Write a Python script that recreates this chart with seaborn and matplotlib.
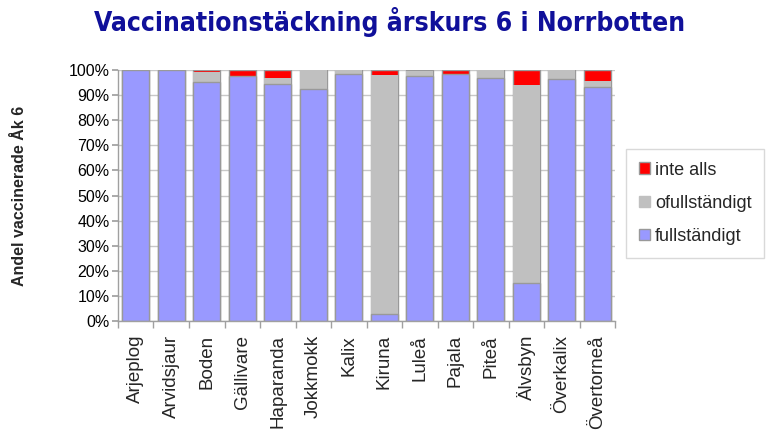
import numpy as np
import pandas as pd
import seaborn as sns
import matplotlib.pyplot as plt
from matplotlib.patches import Patch
from matplotlib.ticker import PercentFormatter, FixedLocator

kommuner = ['Arjeplog', 'Arvidsjaur', 'Boden', 'Gällivare', 'Haparanda', 'Jokkmokk',
            'Kalix', 'Kiruna', 'Luleå', 'Pajala', 'Piteå', 'Älvsbyn', 'Överkalix',
            'Övertorneå']
fullstandigt = [100.0, 100.0, 95.3, 97.6, 94.4, 92.4, 98.4, 2.8, 97.6, 98.5, 97.0, 15.3, 96.3, 93.2]
ofullstandigt = [0.0, 0.0, 4.0, 0.0, 2.4, 7.6, 1.6, 95.4, 2.0, 0.0, 3.0, 78.9, 3.7, 2.6]
inte_alls = [0.0, 0.0, 0.7, 2.4, 3.2, 0.0, 0.0, 1.8, 0.4, 1.5, 0.0, 5.8, 0.0, 4.2]

df = pd.DataFrame({'kommun': kommuner, 'full': fullstandigt,
                   'ofull': ofullstandigt, 'inte': inte_alls})
df['top_ofull'] = df['full'] + df['ofull']
df['top_inte'] = df['top_ofull'] + df['inte']

sns.set_theme(style='whitegrid')
plt.rcParams['font.family'] = ['Liberation Sans', 'DejaVu Sans']

fig = plt.figure(figsize=(7.71, 4.38), dpi=100)
ax = fig.add_axes([0.153, 0.267, 0.645, 0.573])

edge = '#999999'
# stacked bars drawn back to front from cumulative heights
sns.barplot(data=df, x='kommun', y='top_inte', color='#ff0000', saturation=1,
            width=0.76, edgecolor=edge, linewidth=1, ax=ax)
sns.barplot(data=df, x='kommun', y='top_ofull', color='#c0c0c0', saturation=1,
            width=0.76, edgecolor='none', linewidth=0, ax=ax)
sns.barplot(data=df, x='kommun', y='full', color='#9999ff', saturation=1,
            width=0.76, edgecolor=edge, linewidth=1, ax=ax)

ax.set_ylim(0, 100)
ax.set_xlim(-0.5, len(kommuner) - 0.5)
ax.yaxis.set_major_locator(FixedLocator(np.arange(0, 101, 10)))
ax.yaxis.set_major_formatter(PercentFormatter(decimals=0))
ax.grid(axis='y', color='#c8c8c8', linewidth=1)
ax.grid(axis='x', visible=False)
ax.set_facecolor('white')
for s in ['top', 'right']:
    ax.spines[s].set_visible(False)
for s in ['left', 'bottom']:
    ax.spines[s].set_color('#a0a0a0')
    ax.spines[s].set_linewidth(1)

ax.tick_params(axis='y', labelsize=11.5, colors='black', left=True, length=4, color='#a0a0a0', pad=2)
ax.tick_params(axis='x', labelsize=13.5, rotation=90, bottom=False, pad=4)
ax.set_xticks(np.arange(-0.5, len(kommuner), 1), minor=True)
ax.tick_params(axis='x', which='minor', bottom=True, length=5, color='#a0a0a0')

ax.set_xlabel('')
ax.set_ylabel('Andel vaccinerade Åk 6', fontsize=11.5, fontweight='bold', labelpad=30)

fig.suptitle('Vaccinationstäckning årskurs 6 i Norrbotten', x=0.505, y=0.985,
             fontsize=19, fontweight='bold', color='#10109a',
             family=['DejaVu Sans'], fontstretch='condensed')

handles = [Patch(facecolor='#ff0000', edgecolor=edge, label='inte alls'),
           Patch(facecolor='#c0c0c0', edgecolor='#c0c0c0', label='ofullständigt'),
           Patch(facecolor='#9999ff', edgecolor=edge, label='fullständigt')]
leg = fig.legend(handles=handles, loc='upper left', bbox_to_anchor=(0.812, 0.66),
                 fontsize=13, frameon=True, fancybox=False, edgecolor='#d0d0d0',
                 handlelength=0.6, handleheight=0.6, handletextpad=0.3,
                 labelspacing=0.9, borderpad=0.7, borderaxespad=0)
leg.get_frame().set_linewidth(1)

fig.savefig('out.png', dpi=100)
